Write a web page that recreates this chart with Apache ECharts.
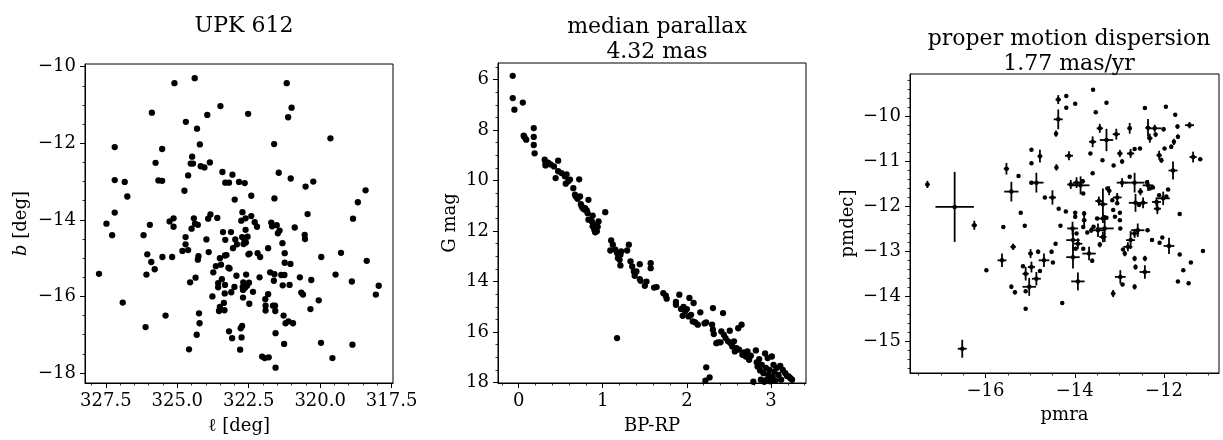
<!DOCTYPE html>
<html>
<head>
<meta charset="utf-8">
<script src="https://cdn.jsdelivr.net/npm/echarts@6/dist/echarts.min.js"></script>
<style>
  html, body { margin: 0; padding: 0; background: #fff; }
  #chart { width: 1223px; height: 440px; }
</style>
</head>
<body>
<div id="chart"></div>
<script>
// sky positions [l, b] in deg
const skyPoints = [
  [327.74,-15.41],[327.48,-14.10],[327.28,-14.40],[327.19,-12.10],[327.19,-12.96],[327.19,-13.81],
  [326.84,-13.01],[326.75,-13.39],[326.91,-16.16],[325.89,-11.20],[326.18,-14.40],[326.05,-14.90],
  [326.08,-15.43],[326.11,-16.80],[325.96,-14.13],[325.91,-15.10],[325.79,-15.29],[325.76,-12.51],
  [325.66,-12.97],[325.53,-12.98],[325.53,-12.15],[325.52,-14.97],[325.41,-16.50],[325.27,-14.04],
  [325.18,-14.97],[325.13,-13.96],[325.13,-14.18],[325.10,-10.43],[324.82,-14.81],[324.75,-13.24],
  [324.71,-14.45],[324.71,-14.64],[324.70,-11.44],[324.62,-12.84],[324.62,-14.79],[324.59,-17.38],
  [324.55,-15.63],[324.53,-12.53],[324.50,-14.23],[324.48,-12.35],[324.45,-12.53],[324.42,-13.96],
  [324.39,-10.30],[324.38,-14.10],[324.36,-15.51],[324.32,-17.00],[324.31,-11.62],[324.28,-14.13],
  [324.28,-15.04],[324.26,-14.95],[324.24,-16.44],[324.22,-16.70],[324.21,-12.03],[324.18,-12.60],
  [324.05,-12.63],[323.95,-11.26],[323.92,-13.97],[323.90,-14.84],[323.86,-12.50],[323.84,-13.86],
  [323.98,-14.51],[323.74,-15.37],[323.77,-16.00],[323.65,-15.21],[323.60,-13.95],[323.57,-15.65],
  [323.57,-15.76],[323.54,-16.38],[323.51,-16.27],[323.51,-15.00],[323.49,-11.03],[323.47,-15.17],
  [323.44,-15.55],[323.42,-12.75],[323.40,-14.32],[323.37,-16.17],[323.35,-16.36],[323.34,-15.92],
  [323.33,-14.93],[323.33,-15.70],[323.32,-13.03],[323.32,-14.52],[323.28,-14.92],[323.21,-15.25],
  [323.19,-13.03],[323.19,-16.91],[323.17,-15.27],[323.12,-14.32],[323.11,-15.89],[323.08,-17.09],
  [323.07,-12.82],[323.05,-14.74],[323.00,-15.75],[322.99,-13.47],[322.97,-14.51],[322.93,-15.46],
  [322.91,-14.64],[322.84,-13.01],[322.80,-17.39],[322.78,-16.83],[322.76,-14.02],[322.75,-17.07],
  [322.73,-16.77],[322.73,-14.45],[322.72,-13.80],[322.71,-15.75],[322.70,-15.83],[322.70,-16.03],
  [322.69,-15.63],[322.68,-14.63],[322.66,-14.49],[322.64,-13.04],[322.63,-15.77],[322.61,-14.26],
  [322.61,-13.96],[322.60,-14.59],[322.59,-15.43],[322.56,-15.72],[322.54,-14.44],[322.52,-11.23],
  [322.51,-14.90],[322.49,-15.64],[322.48,-16.19],[322.47,-14.88],[322.41,-13.90],[322.41,-13.37],
  [322.35,-15.88],[322.29,-14.06],[322.21,-14.18],[322.19,-14.87],[322.10,-14.97],[322.12,-15.50],
  [322.03,-17.57],[321.94,-17.61],[321.92,-16.07],[321.91,-16.24],[321.91,-16.37],[321.82,-15.94],
  [321.82,-14.74],[321.80,-17.59],[321.71,-14.07],[321.68,-14.17],[321.75,-15.37],[321.65,-16.24],
  [321.61,-12.02],[321.60,-13.44],[321.60,-15.42],[321.62,-15.59],[321.58,-16.24],[321.57,-16.38],
  [321.56,-16.96],[321.56,-17.86],[321.52,-14.14],[321.48,-14.35],[321.45,-12.77],[321.42,-14.28],
  [321.36,-15.44],[321.32,-14.61],[321.31,-15.71],[321.28,-16.50],[321.26,-17.24],[321.25,-15.44],
  [321.24,-14.87],[321.24,-15.12],[321.21,-16.70],[321.17,-10.43],[321.12,-11.32],[321.11,-16.65],
  [321.07,-15.70],[321.04,-15.15],[321.03,-12.92],[321.00,-11.07],[320.95,-16.70],[320.89,-14.20],
  [320.71,-15.50],[320.66,-15.90],[320.60,-15.95],[320.54,-14.39],[320.53,-14.50],[320.51,-13.13],
  [320.44,-13.85],[320.34,-16.33],[320.31,-15.57],[320.24,-13.00],[320.05,-16.10],[319.97,-17.21],
  [319.96,-14.97],[319.64,-11.87],[319.57,-17.61],[319.46,-15.43],[319.27,-14.86],[318.89,-15.61],
  [318.87,-17.26],[318.85,-13.97],[318.68,-13.54],[318.41,-13.23],[318.37,-15.07],[318.05,-15.95],
  [317.95,-15.72]
];

// colour-magnitude diagram [BP-RP, G]
const cmdPoints = [
  [-0.07,5.85],[-0.07,6.73],[-0.05,7.19],[0.05,6.91],[0.06,8.22],[0.07,8.28],[0.09,8.38],
  [0.18,7.92],[0.18,8.27],[0.18,8.59],[0.19,8.92],
  [0.31,9.17],[0.32,9.30],[0.32,9.40],[0.35,9.29],[0.38,9.36],[0.42,9.44],[0.44,9.90],[0.47,9.21],
  [0.47,9.63],[0.51,9.70],[0.55,9.83],[0.57,9.75],[0.56,10.12],[0.59,10.03],[0.61,9.96],[0.65,10.30],
  [0.67,10.56],[0.68,10.63],[0.70,10.72],[0.72,9.95],[0.73,10.63],[0.74,10.93],[0.75,11.02],[0.76,11.09],
  [0.78,11.15],[0.79,11.09],[0.81,11.18],[0.82,11.29],[0.83,10.76],[0.83,11.55],[0.87,11.62],[0.88,11.39],
  [0.88,11.81],[0.90,11.95],[0.91,12.05],[0.93,12.01],[0.94,11.83],[0.95,11.62],[0.93,11.75],[1.03,11.25],
  [1.10,12.37],[1.12,12.54],[1.09,12.77],[1.15,12.74],[1.17,12.87],[1.18,13.07],[1.20,13.14],[1.21,12.94],
  [1.22,12.81],[1.17,16.24],[1.21,13.36],[1.31,12.54],[1.29,12.77],[1.33,13.20],[1.35,13.40],[1.37,13.60],
  [1.38,13.77],[1.40,13.60],[1.44,13.31],[1.44,13.90],[1.45,13.97],[1.50,14.17],[1.52,14.00],[1.57,13.27],
  [1.57,13.47],[1.61,14.24],[1.64,14.22],[1.72,14.46],[1.75,14.56],[1.76,14.68],[1.87,14.81],[1.87,14.92],
  [1.91,14.52],[1.93,15.09],[1.95,15.36],[1.96,15.00],[1.98,15.18],[2.00,15.09],[2.02,15.38],[2.03,14.65],
  [2.05,15.32],[2.07,15.58],[2.08,14.85],[2.10,15.62],[2.13,15.71],[2.16,15.22],[2.21,15.66],[2.23,15.62],
  [2.23,17.40],[2.22,17.93],[2.27,17.80],[2.30,15.71],[2.31,15.05],[2.31,15.91],[2.32,16.08],[2.35,16.44],
  [2.37,16.41],[2.40,16.41],[2.43,15.25],[2.41,15.98],[2.44,16.11],[2.46,16.24],[2.49,16.37],[2.51,15.95],
  [2.52,16.44],[2.54,16.57],[2.56,16.37],[2.57,16.77],[2.59,16.64],[2.61,15.85],[2.62,16.70],[2.65,15.71],
  [2.66,16.90],[2.68,16.81],[2.70,16.97],[2.72,16.77],[2.74,17.10],[2.76,16.94],[2.82,16.73],[2.83,17.20],
  [2.84,17.37],[2.86,17.07],[2.87,17.52],[2.88,17.89],[2.89,17.30],[2.91,17.63],[2.93,16.85],[2.94,17.42],
  [2.95,17.89],[2.96,17.03],[2.97,17.70],[2.98,17.50],[3.00,17.89],[3.01,16.97],[3.02,17.76],[3.03,17.30],
  [3.04,17.56],[3.05,17.93],[3.07,17.42],[3.09,17.70],[3.11,17.34],[3.12,17.89],[3.14,17.50],[3.17,17.63],
  [3.19,17.74],[3.21,17.76],[3.23,17.83],[3.25,17.89],[2.79,17.97],[2.92,17.97],[2.99,17.95]
];

// proper motions [pmra, pmdec, pmra_err, pmdec_err]
const pmPoints = [
  [-17.30,-11.51,0.05,0.08],[-16.69,-12.01,0.43,0.78],[-16.25,-12.42,0.06,0.10],[-16.52,-15.17,0.10,0.20],
  [-15.53,-11.16,0.06,0.13],[-15.26,-11.32,0.02,0.03],[-15.42,-11.67,0.16,0.22],[-15.21,-12.14,0.02,0.03],
  [-14.97,-10.74,0.02,0.03],[-14.97,-11.04,0.02,0.03],[-14.78,-10.88,0.05,0.14],[-14.97,-11.47,0.03,0.04],
  [-14.86,-11.47,0.16,0.22],[-14.67,-11.80,0.02,0.03],[-14.50,-11.80,0.08,0.16],[-14.36,-12.05,0.02,0.03],
  [-14.41,-11.13,0.03,0.07],[-14.37,-10.06,0.10,0.22],[-14.42,-10.38,0.03,0.07],[-14.37,-9.62,0.06,0.10],
  [-14.19,-9.54,0.02,0.03],[-14.19,-9.80,0.02,0.03],[-13.99,-9.71,0.02,0.03],[-13.59,-9.40,0.02,0.03],
  [-13.53,-9.90,0.02,0.03],[-13.29,-9.69,0.02,0.03],[-14.13,-10.87,0.09,0.10],[-13.65,-10.82,0.02,0.03],
  [-13.60,-10.56,0.08,0.12],[-13.44,-10.26,0.07,0.10],[-13.29,-10.52,0.15,0.25],[-13.38,-10.97,0.02,0.03],
  [-13.07,-10.39,0.08,0.12],[-13.13,-11.09,0.02,0.03],[-12.99,-10.82,0.06,0.08],[-12.94,-11.00,0.02,0.05],
  [-12.77,-10.26,0.05,0.12],[-12.75,-10.82,0.08,0.10],[-12.66,-10.72,0.02,0.03],[-12.54,-10.71,0.02,0.03],
  [-12.43,-9.81,0.02,0.03],[-12.36,-10.25,0.06,0.20],[-12.32,-10.48,0.06,0.10],[-12.21,-10.26,0.15,0.08],
  [-12.19,-10.40,0.03,0.05],[-12.01,-10.28,0.02,0.05],[-11.96,-9.78,0.02,0.03],[-12.11,-10.86,0.06,0.10],
  [-12.06,-10.97,0.03,0.06],[-11.99,-10.71,0.02,0.03],[-11.84,-10.67,0.02,0.05],[-11.78,-10.56,0.03,0.07],
  [-11.75,-9.96,0.02,0.03],[-11.70,-10.22,0.02,0.05],[-11.69,-10.45,0.02,0.05],[-11.43,-10.19,0.10,0.07],
  [-11.35,-10.90,0.08,0.12],[-11.19,-10.95,0.02,0.03],[-11.80,-11.20,0.10,0.20],[-15.60,-12.46,0.02,0.03],
  [-15.12,-12.43,0.02,0.03],[-15.98,-13.42,0.02,0.03],[-15.63,-13.20,0.10,0.15],[-15.38,-12.90,0.06,0.07],
  [-15.42,-13.79,0.03,0.05],[-15.34,-13.91,0.03,0.05],[-15.16,-13.33,0.02,0.03],[-15.10,-13.89,0.02,0.03],
  [-15.10,-14.28,0.02,0.03],[-15.10,-13.50,0.07,0.15],[-14.99,-13.05,0.05,0.10],[-14.97,-13.35,0.08,0.12],
  [-15.02,-13.79,0.15,0.20],[-14.86,-13.61,0.10,0.15],[-14.82,-13.01,0.04,0.05],[-14.78,-13.44,0.02,0.03],
  [-14.69,-13.20,0.12,0.15],[-14.52,-13.01,0.03,0.05],[-14.49,-13.25,0.02,0.03],[-14.43,-12.83,0.02,0.03],
  [-14.32,-12.43,0.02,0.03],[-14.20,-12.11,0.02,0.03],[-14.28,-14.15,0.02,0.03],[-14.09,-11.51,0.08,0.10],
  [-13.96,-11.47,0.08,0.12],[-13.87,-11.53,0.20,0.20],[-13.82,-11.44,0.02,0.05],[-13.81,-11.71,0.02,0.03],
  [-13.60,-11.26,0.02,0.03],[-13.99,-12.14,0.02,0.03],[-13.99,-12.23,0.02,0.05],[-13.79,-12.16,0.03,0.06],
  [-13.79,-12.31,0.05,0.15],[-13.81,-12.46,0.02,0.03],[-14.05,-12.49,0.12,0.15],[-14.04,-12.75,0.15,0.25],
  [-14.04,-13.13,0.15,0.25],[-13.98,-12.94,0.02,0.03],[-13.96,-12.60,0.02,0.03],[-13.93,-12.83,0.10,0.12],
  [-13.81,-12.94,0.02,0.03],[-13.68,-13.05,0.15,0.15],[-13.61,-13.21,0.03,0.05],[-13.93,-13.67,0.15,0.20],
  [-13.72,-12.58,0.02,0.03],[-13.63,-12.53,0.03,0.06],[-13.58,-12.45,0.02,0.03],[-13.48,-12.53,0.15,0.15],
  [-13.44,-12.85,0.03,0.06],[-13.50,-12.27,0.02,0.03],[-13.46,-11.88,0.08,0.10],[-13.37,-11.95,0.10,0.35],
  [-13.37,-12.27,0.10,0.10],[-13.33,-12.49,0.20,0.30],[-13.37,-12.68,0.08,0.12],[-13.29,-12.25,0.02,0.03],
  [-13.27,-11.60,0.02,0.03],[-13.23,-11.65,0.05,0.10],[-13.16,-11.86,0.02,0.03],[-13.14,-12.08,0.02,0.03],
  [-13.10,-12.23,0.02,0.03],[-13.05,-11.80,0.10,0.10],[-13.05,-11.93,0.02,0.03],[-12.99,-12.14,0.02,0.03],
  [-12.99,-12.31,0.02,0.03],[-12.98,-12.49,0.02,0.03],[-12.94,-11.47,0.12,0.10],[-12.92,-12.96,0.02,0.03],
  [-12.88,-13.05,0.03,0.06],[-12.81,-12.90,0.10,0.10],[-12.75,-12.75,0.10,0.20],[-12.77,-11.34,0.02,0.03],
  [-12.66,-11.47,0.22,0.22],[-12.66,-13.16,0.03,0.06],[-12.64,-13.35,0.03,0.06],[-12.66,-13.79,0.03,0.06],
  [-12.66,-12.60,0.10,0.10],[-12.59,-12.53,0.15,0.15],[-12.53,-11.67,0.06,0.08],[-12.64,-11.92,0.15,0.20],
  [-12.56,-11.97,0.02,0.03],[-12.47,-11.92,0.10,0.12],[-12.36,-11.53,0.12,0.12],[-12.32,-11.60,0.02,0.03],
  [-12.38,-11.46,0.02,0.03],[-12.25,-11.58,0.02,0.03],[-12.43,-13.16,0.03,0.06],[-12.37,-12.53,0.02,0.03],
  [-12.43,-13.46,0.12,0.15],[-12.98,-13.57,0.12,0.15],[-12.93,-13.74,0.02,0.03],[-13.14,-13.94,0.05,0.08],
  [-12.17,-11.90,0.10,0.10],[-12.15,-12.05,0.08,0.12],[-12.11,-11.75,0.02,0.03],[-12.02,-11.82,0.15,0.15],
  [-11.95,-11.78,0.02,0.03],[-11.91,-11.62,0.02,0.03],[-12.27,-12.75,0.02,0.03],[-12.10,-12.81,0.02,0.03],
  [-12.04,-12.69,0.02,0.03],[-11.89,-12.88,0.12,0.18],[-11.65,-13.07,0.02,0.03],[-11.69,-13.67,0.02,0.03],
  [-11.57,-13.42,0.02,0.03],[-11.45,-13.71,0.02,0.03],[-11.40,-13.25,0.02,0.03],[-11.13,-12.99,0.02,0.03],
  [-11.65,-12.17,0.02,0.03]
];

// tick labels
const skyLTicks = [317.5, 320, 322.5, 325, 327.5];
const skyBTicks = [-18, -16, -14, -12, -10];
const cmdColorTicks = [0, 1, 2, 3];
const cmdMagTicks = [6, 8, 10, 12, 14, 16, 18];
const pmRaTicks = [-16, -14, -12];
const pmDecTicks = [-15, -14, -13, -12, -11, -10];

const FONT = 'DejaVu Serif';
const INK = '#000';

function minorTicks(lo, hi, step) {
  let out = [];
  for (let v = Math.ceil(lo / step) * step; v <= hi + 1e-9; v += step) {
    out.push(Math.round(v * 1000) / 1000);
  }
  return out;
}

function minus(s) {
  return String(s).replace('-', '\u2212');
}

// main axis: line, major ticks, labels, name
function mainAxis(grid, pos, min, max, ticks, fmt, inverse, name, nameGap, rich) {
  return {
    type: 'value', gridIndex: grid, position: pos, min: min, max: max, inverse: inverse,
    name: name, nameLocation: 'middle', nameGap: nameGap,
    nameTextStyle: { fontFamily: FONT, fontSize: 18, color: INK, rich: rich },
    axisLine: { show: true, onZero: false, lineStyle: { color: INK, width: 1 } },
    axisTick: { show: true, length: 5, customValues: ticks, lineStyle: { color: INK, width: 1 } },
    axisLabel: {
      show: true, customValues: ticks, margin: 9,
      fontFamily: FONT, fontSize: 18, color: INK,
      formatter: function (v) { return minus(fmt(v)); }
    },
    splitLine: { show: false }
  };
}

// second axis at the same place, only for the short minor ticks
function minorAxis(grid, pos, min, max, ticks, inverse) {
  return {
    type: 'value', gridIndex: grid, position: pos, offset: 0, min: min, max: max, inverse: inverse,
    axisLine: { show: false, onZero: false },
    axisTick: { show: true, length: 2.5, customValues: ticks, lineStyle: { color: INK, width: 0.8 } },
    axisLabel: { show: false },
    splitLine: { show: false }
  };
}

const intFmt = v => String(v);

const chart = echarts.init(document.getElementById('chart'), null, { renderer: 'canvas' });

const titleStyle = { fontFamily: FONT, fontSize: 22, fontWeight: 'normal', color: INK, lineHeight: 25 };
const dotStyle = { color: INK, opacity: 1 };

const option = {
  animation: false,
  backgroundColor: '#fff',
  title: [
    { text: 'UPK 612', left: 239, top: 9, textAlign: 'center', textStyle: titleStyle },
    { text: 'median parallax\n4.32 mas', left: 652, top: 10, textAlign: 'center', textStyle: titleStyle },
    { text: 'proper motion dispersion\n1.77 mas/yr', left: 1064, top: 22, textAlign: 'center', textStyle: titleStyle }
  ],
  grid: [
    { left: 85, top: 64, width: 308, height: 319, show: true, borderColor: INK, borderWidth: 1, backgroundColor: 'transparent' },
    { left: 498, top: 63, width: 308, height: 320, show: true, borderColor: INK, borderWidth: 1, backgroundColor: 'transparent' },
    { left: 910, top: 74, width: 309, height: 299, show: true, borderColor: INK, borderWidth: 1, backgroundColor: 'transparent' }
  ],
  xAxis: [
    mainAxis(0, 'bottom', 317.45, 328.23, skyLTicks, v => v.toFixed(1), true, '\u2113 [deg]', 34),
    minorAxis(0, 'bottom', 317.45, 328.23, minorTicks(317.45, 328.23, 0.5), true),
    mainAxis(1, 'bottom', -0.245, 3.416, cmdColorTicks, intFmt, false, 'BP-RP', 34),
    minorAxis(1, 'bottom', -0.245, 3.416, minorTicks(-0.245, 3.416, 0.2), false),
    mainAxis(2, 'bottom', -17.69, -10.77, pmRaTicks, intFmt, false, 'pmra', 33),
    minorAxis(2, 'bottom', -17.69, -10.77, minorTicks(-17.69, -10.77, 0.5), false)
  ],
  yAxis: [
    mainAxis(0, 'left', -18.26, -9.93, skyBTicks, intFmt, false, '{i|b} [deg]', 55,
      { i: { fontFamily: FONT, fontSize: 18, fontStyle: 'italic', color: INK } }),
    minorAxis(0, 'left', -18.26, -9.93, minorTicks(-18.26, -9.93, 0.5), false),
    mainAxis(1, 'left', 5.34, 18.02, cmdMagTicks, intFmt, true, 'G mag', 39),
    minorAxis(1, 'left', 5.34, 18.02, minorTicks(5.34, 18.02, 0.5), true),
    mainAxis(2, 'left', -15.71, -9.05, pmDecTicks, intFmt, false, 'pmdec]', 53),
    minorAxis(2, 'left', -15.71, -9.05, minorTicks(-15.71, -9.05, 0.2), false)
  ],
  series: [
    {
      type: 'scatter', xAxisIndex: 0, yAxisIndex: 0, data: skyPoints,
      symbolSize: 6.3, itemStyle: dotStyle, clip: true
    },
    {
      type: 'scatter', xAxisIndex: 2, yAxisIndex: 2, data: cmdPoints,
      symbolSize: 6.3, itemStyle: dotStyle, clip: true
    },
    {
      type: 'custom', xAxisIndex: 4, yAxisIndex: 4, data: pmPoints,
      encode: { x: 0, y: 1 },
      renderItem: function (params, api) {
        const x = api.value(0), y = api.value(1), ex = api.value(2), ey = api.value(3);
        const l = api.coord([x - ex, y]), r = api.coord([x + ex, y]);
        const t = api.coord([x, y + ey]), b = api.coord([x, y - ey]);
        const st = { stroke: INK, lineWidth: 1.8 };
        return {
          type: 'group',
          children: [
            { type: 'line', shape: { x1: l[0], y1: l[1], x2: r[0], y2: r[1] }, style: st },
            { type: 'line', shape: { x1: t[0], y1: t[1], x2: b[0], y2: b[1] }, style: st }
          ]
        };
      }
    },
    {
      type: 'scatter', xAxisIndex: 4, yAxisIndex: 4,
      data: pmPoints.map(p => [p[0], p[1]]),
      symbolSize: 4.5, itemStyle: dotStyle, clip: true
    }
  ]
};

chart.setOption(option);
</script>
</body>
</html>
